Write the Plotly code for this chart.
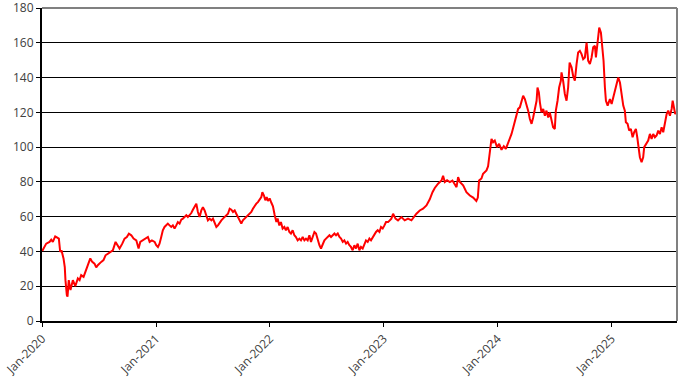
import pandas as pd
import plotly.graph_objects as go

# time, in years elapsed since 1 Jan 2020
t_years = [
    0.002, 0.037, 0.066, 0.081, 0.095, 0.116, 0.134, 0.148, 0.160, 0.171, 0.189, 0.200, 0.206, 0.213,
    0.218, 0.224, 0.235, 0.250, 0.271, 0.292, 0.315, 0.330, 0.344, 0.365, 0.382, 0.402, 0.424, 0.441,
    0.461, 0.476, 0.490, 0.520, 0.540, 0.558, 0.578, 0.599, 0.622, 0.646, 0.661, 0.681, 0.705, 0.725,
    0.745, 0.763, 0.784, 0.804, 0.828, 0.848, 0.863, 0.886, 0.909, 0.930, 0.945, 0.965, 0.989,
    1.003, 1.018, 1.032, 1.047, 1.061, 1.076, 1.091, 1.105, 1.120, 1.135, 1.149, 1.164, 1.179, 1.193,
    1.208, 1.223, 1.237, 1.252, 1.267, 1.281, 1.296, 1.311, 1.325, 1.340, 1.355, 1.369, 1.384, 1.399,
    1.413, 1.428, 1.443, 1.457, 1.472, 1.487, 1.501, 1.516, 1.531, 1.545, 1.560, 1.575, 1.589, 1.604,
    1.619, 1.633, 1.648, 1.663, 1.677, 1.692, 1.706, 1.721, 1.735, 1.750, 1.764, 1.779, 1.794, 1.808,
    1.823, 1.838, 1.852, 1.867, 1.882, 1.896, 1.911, 1.926, 1.935, 1.949, 1.961, 1.973, 1.984, 1.999,
    2.014, 2.028, 2.043, 2.058, 2.069, 2.084, 2.098, 2.113, 2.128, 2.142, 2.157, 2.172, 2.186, 2.201,
    2.216, 2.230, 2.245, 2.260, 2.274, 2.289, 2.304, 2.318, 2.333, 2.348, 2.362, 2.377, 2.392, 2.406,
    2.421, 2.436, 2.450, 2.465, 2.480, 2.494, 2.509, 2.524, 2.538, 2.553, 2.568, 2.582, 2.597, 2.612,
    2.626, 2.641, 2.655, 2.670, 2.684, 2.699, 2.713, 2.728, 2.743, 2.757, 2.772, 2.787, 2.801, 2.816,
    2.831, 2.845, 2.860, 2.875, 2.889, 2.904, 2.919, 2.933, 2.948, 2.963, 2.977, 2.992, 3.007, 3.021,
    3.039, 3.068, 3.083, 3.104, 3.126, 3.156, 3.185, 3.214, 3.244, 3.264, 3.288, 3.317, 3.346, 3.376,
    3.405, 3.429, 3.449, 3.478, 3.508, 3.522, 3.537, 3.557, 3.581, 3.604, 3.625, 3.640, 3.654, 3.669,
    3.698, 3.727, 3.757, 3.786, 3.814, 3.827, 3.838, 3.859, 3.873, 3.903, 3.917, 3.932, 3.947, 3.961,
    3.976, 3.996, 4.014, 4.035, 4.055, 4.073, 4.093, 4.108, 4.123, 4.137, 4.152, 4.167, 4.181, 4.196,
    4.211, 4.225, 4.240, 4.255, 4.269, 4.284, 4.299, 4.313, 4.328, 4.343, 4.351, 4.363, 4.372, 4.386,
    4.401, 4.416, 4.430, 4.445, 4.459, 4.474, 4.488, 4.503, 4.512, 4.527, 4.541, 4.556, 4.562, 4.576,
    4.591, 4.606, 4.620, 4.633, 4.650, 4.664, 4.679, 4.694, 4.708, 4.723, 4.738, 4.752, 4.767, 4.782,
    4.796, 4.811, 4.826, 4.840, 4.855, 4.864, 4.875, 4.884, 4.893, 4.908, 4.919, 4.931, 4.943, 4.952,
    4.967, 4.987, 5.002, 5.016, 5.031, 5.046, 5.060, 5.075, 5.089, 5.104, 5.118, 5.127, 5.142, 5.156,
    5.171, 5.186, 5.200, 5.215, 5.227, 5.241, 5.250, 5.265, 5.279, 5.288, 5.309, 5.323, 5.338, 5.353,
    5.367, 5.382, 5.397, 5.411, 5.426, 5.441, 5.455, 5.470, 5.485, 5.499, 5.514, 5.529, 5.538, 5.549,
    5.560, 5.572,
]

values = [
    40.3, 44.5, 45.5, 46.8, 45.5, 48.7, 48.0, 47.4, 39.7, 40.7, 36.0, 31.0, 23.5, 16.0,
    14.9, 14.0, 23.5, 17.8, 23.5, 20.0, 24.5, 23.5, 26.4, 25.4, 28.3, 32.1, 36.0, 34.0,
    33.0, 30.8, 32.1, 34.0, 35.0, 37.8, 38.8, 39.7, 40.7, 45.5, 43.6, 41.7, 44.5, 47.4,
    48.3, 50.2, 49.3, 47.4, 46.4, 41.7, 45.5, 46.4, 47.4, 48.3, 45.5, 46.4, 45.5,
    43.6, 42.6, 44.5, 48.3, 52.2, 54.1, 55.0, 56.0, 55.0, 54.1, 55.0, 53.2, 55.0, 56.9,
    56.0, 58.3, 58.9, 59.8, 60.8, 59.8, 60.8, 62.1, 64.0, 65.9, 67.5, 62.7, 59.8, 63.6,
    65.5, 63.6, 59.8, 57.9, 58.9, 57.9, 58.9, 56.9, 54.1, 55.0, 56.9, 57.9, 58.9, 59.8,
    60.8, 61.7, 64.6, 64.0, 62.7, 63.6, 61.7, 59.8, 57.9, 56.0, 57.9, 58.9, 59.8, 60.8,
    61.7, 62.7, 64.6, 66.5, 67.5, 68.4, 70.3, 71.3, 74.1, 72.2, 69.4, 71.3, 69.0, 70.5,
    68.0, 66.0, 61.0, 57.0, 58.9, 55.0, 56.9, 53.2, 54.1, 52.2, 54.1, 51.2, 50.3, 52.2,
    49.3, 48.3, 46.4, 47.4, 46.4, 48.3, 46.4, 47.4, 46.4, 49.3, 45.5, 48.3, 51.2, 50.3,
    46.4, 43.6, 41.7, 44.5, 46.4, 47.4, 48.3, 49.3, 48.3, 49.3, 50.3, 49.3, 50.3, 48.3,
    47.4, 45.5, 46.4, 44.5, 45.5, 43.6, 42.6, 40.7, 43.6, 41.7, 44.5, 40.7, 42.6, 41.7,
    44.5, 46.4, 45.5, 47.4, 46.4, 48.3, 49.3, 51.2, 52.2, 51.2, 54.1, 53.2, 55.0, 56.9,
    56.9, 58.9, 61.7, 58.9, 57.9, 59.8, 57.9, 58.9, 57.9, 59.8, 61.7, 63.6, 64.6, 66.5,
    70.0, 74.1, 76.5, 79.0, 80.8, 83.5, 79.9, 81.0, 79.9, 80.8, 79.0, 77.0, 82.8, 80.0,
    78.0, 74.1, 72.2, 71.0, 69.0, 71.0, 80.8, 82.0, 84.7, 86.6, 89.0, 96.0, 104.8, 102.8,
    103.8, 100.0, 101.9, 98.5, 100.5, 99.0, 102.0, 104.5, 107.6, 111.0, 115.3, 119.0, 122.0, 122.9,
    126.7, 129.6, 127.7, 124.8, 121.0, 116.2, 113.4, 117.1, 122.9, 126.7, 134.3, 131.5, 125.8, 120.0,
    122.0, 118.1, 121.0, 117.1, 120.0, 115.3, 111.4, 110.5, 121.0, 126.7, 134.3, 138.2, 143.0, 138.2,
    130.6, 126.7, 134.3, 148.7, 145.9, 141.0, 138.2, 147.8, 154.5, 155.4, 153.5, 150.6, 151.6, 160.2,
    149.7, 147.8, 151.6, 157.4, 158.3, 151.6, 158.3, 165.0, 168.8, 165.9, 159.2, 149.7, 134.3, 126.7,
    123.9, 127.7, 124.8, 128.6, 132.5, 137.2, 140.1, 137.2, 131.5, 123.9, 121.0, 114.3, 113.4, 109.5,
    110.5, 105.7, 108.6, 110.5, 105.7, 100.0, 94.2, 91.3, 94.2, 100.0, 101.9, 103.8, 107.6, 104.8,
    107.6, 105.7, 106.7, 109.5, 107.6, 111.4, 108.6, 114.3, 119.1, 121.0, 118.1, 122.0, 126.7, 122.9,
    119.1, 120.0,
]

tick_dates = ["2020-01-01", "2021-01-01", "2022-01-01", "2023-01-01", "2024-01-01", "2025-01-01"]
tick_labels = ["Jan-2020", "Jan-2021", "Jan-2022", "Jan-2023", "Jan-2024", "Jan-2025"]
y_ticks = [0, 20, 40, 60, 80, 100, 120, 140, 160, 180]

start = pd.Timestamp("2020-01-01")
dates = [start + pd.Timedelta(days=t * 365.25) for t in t_years]

fig = go.Figure()
fig.add_trace(go.Scatter(
    x=dates, y=values, mode="lines",
    line=dict(color="#FF0000", width=2),
    showlegend=False, hoverinfo="skip",
))

font = dict(family="Open Sans, DejaVu Sans, sans-serif", size=12, color="#404040")

fig.update_layout(
    width=695, height=381,
    margin=dict(l=42, r=18, t=8, b=60),
    paper_bgcolor="white", plot_bgcolor="white",
    font=font,
    xaxis=dict(
        type="date", automargin=False,
        range=[start, start + pd.Timedelta(days=5.576 * 365.25)],
        tickvals=tick_dates, ticktext=tick_labels, tickangle=-45,
        showgrid=False, zeroline=False,
        showline=True, linecolor="black", linewidth=2,
        ticks="outside", ticklen=4, tickcolor="black", tickwidth=1,
        tickfont=font, ticklabeloverflow="allow",
    ),
    yaxis=dict(
        automargin=False,
        range=[0, 180.05], tickvals=y_ticks,
        showgrid=True, gridcolor="black", gridwidth=1,
        zeroline=False,
        showline=True, linecolor="black", linewidth=2,
        ticks="outside", ticklen=4, tickcolor="black", tickwidth=1,
        tickfont=font, ticklabeloverflow="allow",
    ),
    shapes=[
        dict(type="line", xref="paper", yref="paper", x0=0, x1=1, y0=1, y1=1,
             line=dict(color="#808080", width=2), layer="above"),
        dict(type="line", xref="paper", yref="paper", x0=1, x1=1, y0=0, y1=1,
             line=dict(color="#808080", width=2), layer="above"),
    ],
)

fig.write_html(
    "out.html",
    config={"displayModeBar": False},
    post_script="document.body.style.margin='0';document.body.style.overflow='hidden';",
)
